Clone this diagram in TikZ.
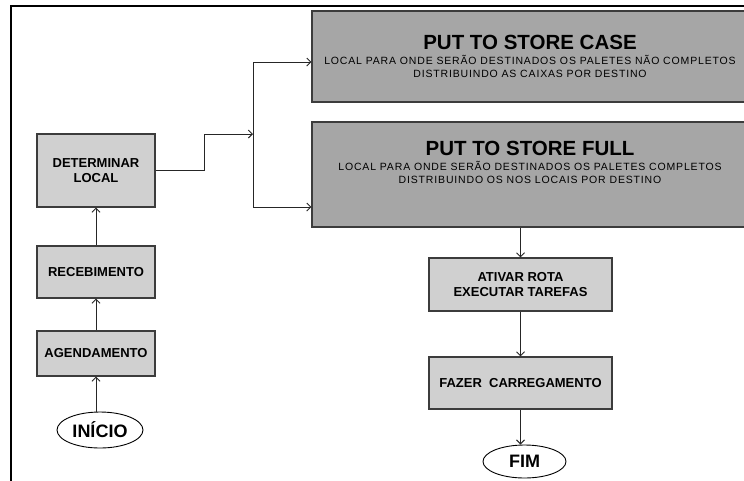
\documentclass[tikz,border=0pt]{standalone}
\usepackage{fontspec}
\setmainfont{Liberation Sans}
\newfontfamily\fonteespacada[LetterSpace=8]{Liberation Sans}
\usetikzlibrary{arrows.meta,shapes.geometric}
\definecolor{cinzaclaro}{HTML}{D0D0D0}
\definecolor{cinzaescuro}{HTML}{A6A6A6}
\definecolor{borda}{HTML}{3C3C3C}
\tikzset{
  etapa/.style={draw=borda,fill=cinzaclaro,line width=1.1pt,inner sep=0pt,
    minimum width=118pt,align=center,font=\fontsize{13}{15.5}\selectfont\bfseries},
  destino/.style={draw=borda,fill=cinzaescuro,line width=1.1pt,inner sep=0pt,
    minimum width=436pt,align=center,font=\fontsize{10.5}{13.3}\selectfont\fonteespacada},
  terminal/.style={draw,ellipse,line width=0.9pt,inner sep=0pt,
    font=\fontsize{18}{20}\selectfont\bfseries},
  fluxo/.style={line width=1pt,draw=black!85}
}
\newcommand{\titulo}{\normalfont\bfseries\fontsize{20.5}{13.3}\selectfont}

\begin{document}
\begin{tikzpicture}[x=1pt,y=-1pt,>={Straight Barb[length=4pt,width=8pt]}]
  \useasboundingbox (0,0) rectangle (744,480);
  \clip (0,0) rectangle (744,480);
  \draw[line width=1.7pt] (11,490) -- (11,6) -- (760,6);

  % coluna da esquerda
  \node[terminal,minimum width=86pt,minimum height=36pt] (ini) at (100,430) {INÍCIO};
  \node[etapa,minimum height=45pt] (agd) at (96,353.5) {AGENDAMENTO};
  \node[etapa,minimum height=52pt] (rec) at (96,272) {RECEBIMENTO};
  \node[etapa,minimum height=73pt] (det) at (96,170.5) {DETERMINAR\\LOCAL};

  \draw[fluxo,->] (ini.north -| agd.south) -- (agd.south);
  \draw[fluxo,->] (agd) -- (rec);
  \draw[fluxo,->] (rec) -- (det);

  % destinos
  \node[destino,minimum height=91pt] (case) at (530,56.5)
    {{\titulo PUT TO STORE CASE}\\[2pt]
     LOCAL PARA ONDE SERÃO DESTINADOS OS PALETES NÃO COMPLETOS\\
     DISTRIBUINDO AS CAIXAS POR DESTINO};
  \node[destino,minimum height=105pt] (full) at (530,174.5)
    {{\titulo PUT TO STORE FULL}\\[2pt]
     LOCAL PARA ONDE SERÃO DESTINADOS OS PALETES COMPLETOS\\
     DISTRIBUINDO OS NOS LOCAIS POR DESTINO\\[11pt]\mbox{}};

  \coordinate (jog) at (204,134);
  \coordinate (bus) at (253,134);
  \coordinate (bt) at (253,62);
  \coordinate (bb) at (253,207);
  \draw[fluxo,->] (det.east) -| (jog) -- (bus);
  \draw[fluxo] (bt) -- (bb);
  \draw[fluxo,->] (bt) -- (bt -| case.west);
  \draw[fluxo,->] (bb) -- (bb -| full.west);

  % coluna da direita
  \node[etapa,minimum width=183pt,minimum height=53pt] (atv) at (520.5,284.5)
    {ATIVAR ROTA\\EXECUTAR TAREFAS};
  \node[etapa,minimum width=183pt,minimum height=52pt] (faz) at (520.5,383)
    {FAZER\ \ CARREGAMENTO};
  \node[terminal,minimum width=83pt,minimum height=33pt] (fim) at (524.5,461.5) {FIM};

  \draw[fluxo,->] (atv.north |- full.south) -- (atv.north);
  \draw[fluxo,->] (atv) -- (faz);
  \draw[fluxo,->] (faz.south) -- (faz.south |- fim.north);
\end{tikzpicture}
\end{document}
